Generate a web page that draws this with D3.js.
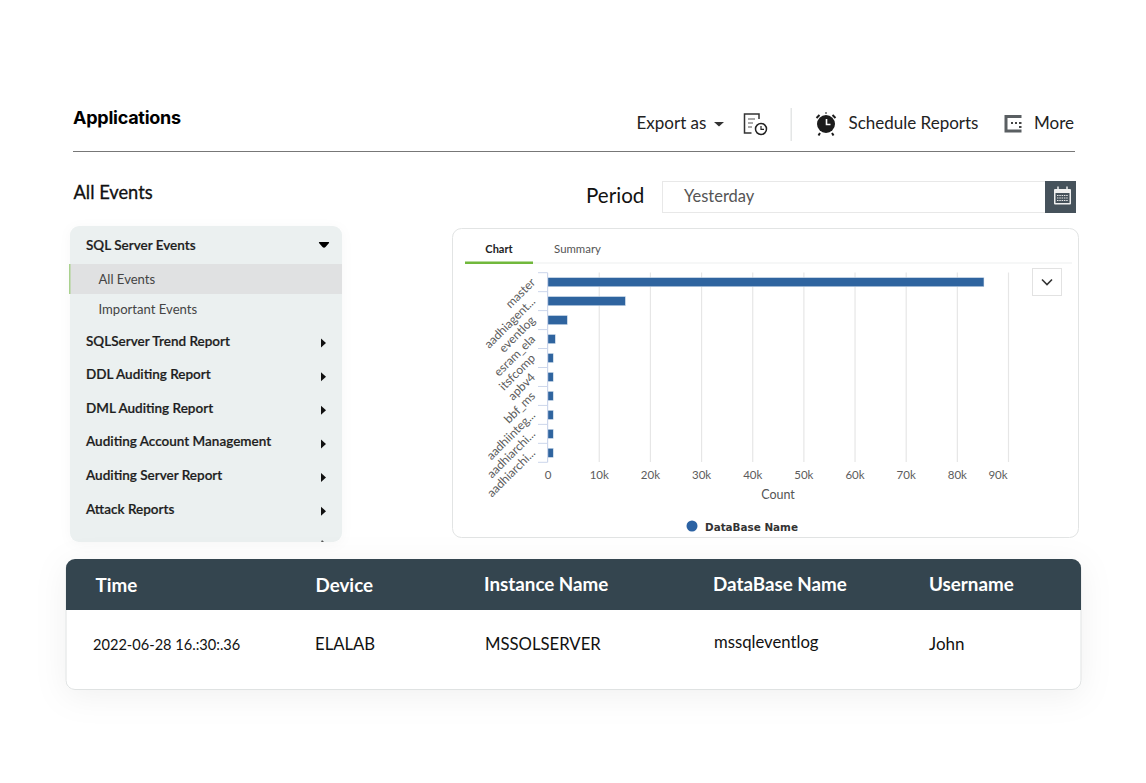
<!DOCTYPE html>
<html><head><meta charset="utf-8">
<script src="https://cdn.jsdelivr.net/npm/d3@7/dist/d3.min.js"></script>
<style>
html,body{margin:0;padding:0;background:#fff;overflow:hidden}
svg{display:block}
text{font-family:Lato,sans-serif}
</style></head><body>
<svg id="c" width="1146" height="783" xmlns="http://www.w3.org/2000/svg"></svg>
<script>
const databases=["master","aadhiagent...","eventlog","esram_ela","itsfcomp","apbv4","bbf_ms","aadhiinteg...","aadhiarchi...","aadhiarchi..."];
const counts=[85300,15200,3850,1500,1100,1100,1100,1100,1100,1100];
const xTicks=[0,10000,20000,30000,40000,50000,60000,70000,80000,90000];
const menuItems=["SQLServer Trend Report","DDL Auditing Report","DML Auditing Report","Auditing Account Management","Auditing Server Report","Attack Reports"];
const subItems=["All Events","Important Events"];
const tableHeaders=["Time","Device","Instance Name","DataBase Name","Username"];
const tableRow=["2022-06-28 16.:30:.36","ELALAB","MSSOLSERVER","mssqleventlog","John"];
const tabs=["Chart","Summary"];

const svg=d3.select("#c");
const defs=svg.append("defs");
function shadow(id,dy,blur,op){
  const f=defs.append("filter").attr("id",id).attr("x","-10%").attr("y","-20%").attr("width","120%").attr("height","150%");
  f.append("feDropShadow").attr("dx",0).attr("dy",dy).attr("stdDeviation",blur).attr("flood-color","#000").attr("flood-opacity",op);
}
shadow("s1",6,16,0.06);
shadow("s2",2,6,0.03);
const T=(x,y,s,size,fill,weight,anchor,fam)=>{
  const t=svg.append("text").attr("x",x).attr("y",y).text(s).attr("font-size",size).attr("fill",fill);
  if(weight)t.attr("font-weight",weight);
  if(anchor)t.attr("text-anchor",anchor);
  if(fam)t.style("font-family",fam);
  return t;
};

// header
T(73,124,"Applications",18,"#000",700,null,"Inter, sans-serif").attr("letter-spacing",-0.25);
T(636.500,129,"Export as",17,"#222");
svg.append("path").attr("d","M714 122h10l-5 4.500z").attr("fill","#333");
// report icon
svg.append("path").attr("d","M759 119v-5h-14.500v19h7").attr("fill","none").attr("stroke","#333").attr("stroke-width",1.5);
svg.append("path").attr("d","M748 119h7M748 123h5M748 127h4").attr("stroke","#555").attr("stroke-width",1.200);
svg.append("circle").attr("cx",761).attr("cy",129).attr("r",5.500).attr("fill","#fff").attr("stroke","#222").attr("stroke-width",1.500);
svg.append("path").attr("d","M761 126v3.300h3").attr("fill","none").attr("stroke","#222").attr("stroke-width",1.200);
svg.append("rect").attr("x",790.500).attr("y",108).attr("width",1.500).attr("height",33).attr("fill","#e4e6e6");
// clock icon
svg.append("circle").attr("cx",826).attr("cy",124).attr("r",9).attr("fill","#1c1c1c");
svg.append("path").attr("d","M826.500 119v5.500h4").attr("fill","none").attr("stroke","#fff").attr("stroke-width",1.600);
svg.append("path").attr("d","M816.500 118l3-3M835.500 118l-3-3M826 112.500v1M820 133l-1.500 2.500M832 133l1.500 2.500").attr("stroke","#1c1c1c").attr("stroke-width",2).attr("fill","none");
T(848.500,129,"Schedule Reports",17,"#222");
// more icon
svg.append("path").attr("d","M1021.500 116.500h-15.500v14.500h15.500").attr("fill","none").attr("stroke","#5a5f62").attr("stroke-width",3);
svg.append("path").attr("d","M1011 123h2M1015 123h2M1019 123h2.500M1019 127h2.500").attr("stroke","#444").attr("stroke-width",2);
T(1034,129,"More",17,"#222");
svg.append("line").attr("x1",73).attr("x2",1075).attr("y1",151.500).attr("y2",151.500).attr("stroke","#777").attr("stroke-width",1);

T(73.500,198.500,"All Events",18.300,"#111",400).attr("stroke","#111").attr("stroke-width",0.300);
T(586,203,"Period",20.600,"#111");
svg.append("rect").attr("x",662.500).attr("y",181.500).attr("width",384).attr("height",31).attr("fill","#fff").attr("stroke","#e8e8e8");
T(684,202,"Yesterday",16.500,"#555");
svg.append("rect").attr("x",1045).attr("y",181).attr("width",31).attr("height",32).attr("fill","#46525b");
svg.append("rect").attr("x",1054).attr("y",189).attr("width",17).attr("height",15.500).attr("rx",1).attr("fill","#f0f0f0");
svg.append("rect").attr("x",1055.500).attr("y",193).attr("width",14).attr("height",10).attr("fill","#46525b");
svg.append("path").attr("d","M1057 195.500h11M1057 198h11M1057 200.500h11").attr("stroke","#e8e8e8").attr("stroke-width",1.200).attr("stroke-dasharray","1.500 0.800");
svg.append("path").attr("d","M1058 186.500v3.500M1067 186.500v3.500").attr("stroke","#f0f0f0").attr("stroke-width",1.500);

// left menu
svg.append("rect").attr("x",70).attr("y",226).attr("width",272).attr("height",316).attr("rx",9).attr("fill","#ebf0f0").attr("filter","url(#s2)");
T(86,250,"SQL Server Events",13.500,"#1d1d1d",600).attr("stroke","#1d1d1d").attr("stroke-width",0.200);
svg.append("path").attr("d","M319.500 242h9q1 0 .5 1l-3.500 4q-1.500 1.500-3 0l-3.500-4q-.5-1 .5-1z").attr("fill","#000");
svg.append("rect").attr("x",70).attr("y",264).attr("width",272).attr("height",30).attr("fill","#e0e1e2");
svg.append("rect").attr("x",69).attr("y",264).attr("width",1.500).attr("height",30).attr("fill","#a9d18e");
const subY=d3.scalePoint().domain(subItems).range([284,314]);
svg.selectAll(".sub").data(subItems).join("text").attr("class","sub").attr("x",98.500).attr("y",d=>subY(d)).attr("font-size",13.100).attr("fill","#444").text(d=>d);
const menuY=d3.scalePoint().domain(menuItems).range([345.500,513.700]);
svg.selectAll(".mi").data(menuItems).join("text").attr("class","mi").attr("x",86).attr("y",d=>menuY(d)).attr("font-size",13.500).attr("font-weight",600).attr("fill","#1d1d1d").attr("stroke","#1d1d1d").attr("stroke-width",0.200).text(d=>d);
svg.selectAll(".ar").data(menuItems).join("path").attr("class","ar").attr("transform",d=>`translate(321,${menuY(d)-2.500})`).attr("d","M0 -4.500L5 0L0 4.500z").attr("fill","#111");
svg.append("path").attr("d","M321 542l1-2 2 2z").attr("fill","#555");

// chart card
svg.append("rect").attr("x",452.500).attr("y",228.500).attr("width",626).attr("height",309).attr("rx",9).attr("fill","#fff").attr("stroke","#e2e4e4");
svg.append("line").attr("x1",465).attr("x2",1072).attr("y1",263).attr("y2",263).attr("stroke","#f3f4f4").attr("stroke-width",1.500);
svg.append("rect").attr("x",465).attr("y",261.500).attr("width",68).attr("height",2.500).attr("fill","#71b83c");
T(499,253,tabs[0],11,"#222",700,"middle");
T(577.500,253,tabs[1],11.400,"#555",400,"middle");

// the chart
const x=d3.scaleLinear().domain([0,90000]).range([547.6,1008]);
const y=d3.scaleBand().domain(d3.range(databases.length)).range([272.700,462.300]).paddingInner(0.52).paddingOuter(0.26);
const yTick=d3.scaleBand().domain(d3.range(databases.length)).range([272.700,462.300]);
const plot=svg.append("g");
const gx=plot.append("g").attr("transform","translate(0,462)").call(d3.axisBottom(x).tickValues(xTicks).tickSize(-189.500).tickFormat(d=>d===0?"0":d/1000+"k").tickPadding(8));
gx.select(".domain").remove();
gx.selectAll(".tick line").attr("stroke","#e6e6e6").attr("stroke-width",1.200).filter(d=>d===0).remove();
gx.selectAll(".tick text").attr("font-size",11.500).attr("fill","#5c5c5c").style("font-family","Lato,sans-serif").attr("dy","0.8em");
gx.selectAll(".tick").filter(d=>d===90000).select("text").attr("dx",-10.500);
plot.selectAll(".bar").data(counts).join("rect").attr("class","bar")
  .attr("x",x(0)).attr("y",(d,i)=>y(i)).attr("width",d=>x(d)-x(0)).attr("height",y.bandwidth())
  .attr("fill","#2f649f").attr("stroke","#d5e1ee").attr("stroke-width",0.500);
// category axis
const gy=plot.append("g");
gy.append("path").attr("d",`M${x(0)} 272.700V462.300`).attr("stroke","#ccd6eb").attr("stroke-width",1.200).attr("fill","none");
gy.selectAll(".t").data(d3.range(databases.length+1)).join("line").attr("class","t")
  .attr("x1",538).attr("x2",x(0)).attr("y1",i=>272.700+i*yTick.step()).attr("y2",i=>272.700+i*yTick.step())
  .attr("stroke","#ccd6eb").attr("stroke-width",1);
gy.selectAll(".l").data(databases).join("text").attr("class","l")
  .attr("transform",(d,i)=>`translate(536,${yTick(i)+yTick.bandwidth()/2+1}) rotate(-45)`)
  .attr("text-anchor","end").attr("font-size",12).attr("fill","#5c5c5c").text(d=>d);
T(778,499,"Count",12.500,"#555",400,"middle");
svg.append("circle").attr("cx",692).attr("cy",526).attr("r",5.500).attr("fill","#2b62a3");
T(705,531,"DataBase Name",10.400,"#333",700,null,"'DejaVu Sans',sans-serif");
// dropdown button
svg.append("rect").attr("x",1032.500).attr("y",268.500).attr("width",29).attr("height",27).attr("fill","#fff").attr("stroke","#e2e2e2");
svg.append("path").attr("d","M1042 279.500l5 5 5-5").attr("fill","none").attr("stroke","#333").attr("stroke-width",1.600);

// table card
svg.append("rect").attr("x",66).attr("y",559.500).attr("width",1015).attr("height",130).attr("rx",9).attr("fill","#fff").attr("stroke","#dfe2e2").attr("filter","url(#s1)");
svg.append("path").attr("d","M66 610V568a9 9 0 0 1 9-9H1072a9 9 0 0 1 9 9V610z").attr("fill","#34454f");
const colX=d3.scaleOrdinal().domain(tableHeaders).range([95.500,315.500,484,713,929]);
const headY=d3.scaleOrdinal().domain(tableHeaders).range([592,592,590.500,591,591]);
svg.selectAll(".th").data(tableHeaders).join("text").attr("class","th").attr("x",d=>colX(d)).attr("y",d=>headY(d)).attr("font-size",18.800).attr("font-weight",700).attr("fill","#fff").text(d=>d);
const rowX=[93,315,485,714,929], rowY=[650,650,650,648,650], rowS=[14.600,16.700,16.700,16.700,17];
svg.selectAll(".td").data(tableRow).join("text").attr("class","td").attr("x",(d,i)=>rowX[i]).attr("y",(d,i)=>rowY[i]).attr("font-size",(d,i)=>rowS[i]).attr("fill","#111").text(d=>d);
</script>
</body></html>
